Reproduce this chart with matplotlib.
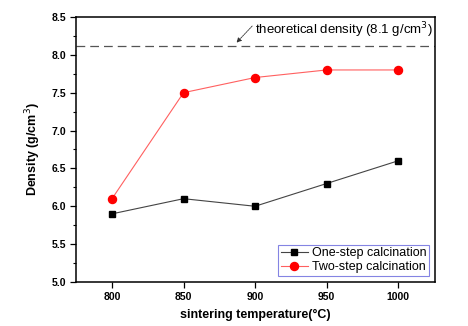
import matplotlib.pyplot as plt
from matplotlib.ticker import MultipleLocator

# sintering temperature (C) and measured density (g/cm3)
temperature = [800, 850, 900, 950, 1000]
one_step = [5.9, 6.1, 6.0, 6.3, 6.6]
two_step = [6.1, 7.5, 7.7, 7.8, 7.8]
theoretical = 8.12

plt.rcParams['font.family'] = ['Liberation Sans', 'DejaVu Sans']

fig = plt.figure(figsize=(4.68, 3.26), dpi=100)
ax = fig.add_axes([0.163, 0.135, 0.767, 0.813])

ax.plot(temperature, one_step, color='#444444', lw=0.8, marker='s', ms=5,
        mfc='black', mec='black', label='One-step calcination')
ax.plot(temperature, two_step, color='#ff6060', lw=0.8, marker='o', ms=5.8,
        mfc='red', mec='red', label='Two-step calcination')

ax.axhline(theoretical, color='#555555', lw=0.9, ls=(0, (7, 4)))
ax.text(900, 8.33, 'theoretical density (8.1 g/cm$^3$)', fontsize=9.5,
        va='center', ha='left')
# small dotted arrow pointing down-left to the dashed line
ax.annotate('', xy=(887, 8.16), xytext=(898, 8.38),
            arrowprops=dict(arrowstyle='-|>', color='#333333', lw=0.6,
                            mutation_scale=7, shrinkA=0, shrinkB=0,
                            ls=(0, (2, 1))))

ax.set_xlim(775, 1026)
ax.set_ylim(5.0, 8.5)
ax.set_xticks(temperature)
ax.yaxis.set_major_locator(MultipleLocator(0.5))
ax.yaxis.set_minor_locator(MultipleLocator(0.25))
ax.tick_params(axis='both', labelsize=7.5, width=0.9, length=4)
ax.tick_params(axis='y', which='minor', length=2.5, width=0.8)
for lbl in ax.get_xticklabels() + ax.get_yticklabels():
    lbl.set_fontweight('bold')
for sp in ax.spines.values():
    sp.set_linewidth(1.1)

ax.set_xlabel('sintering temperature(°C)', fontsize=9, fontweight='bold', labelpad=5)
ax.set_ylabel('Density (g/cm$^3$)', fontsize=9, fontweight='bold', labelpad=6)

leg = ax.legend(loc='lower right', fontsize=9, frameon=True, fancybox=False,
                borderpad=0.2, labelspacing=0.15, handlelength=2.2,
                handletextpad=0.3, borderaxespad=0.5)
leg.get_frame().set_edgecolor('#6666dd')
leg.get_frame().set_linewidth(0.8)

fig.savefig('out.png', dpi=100)
